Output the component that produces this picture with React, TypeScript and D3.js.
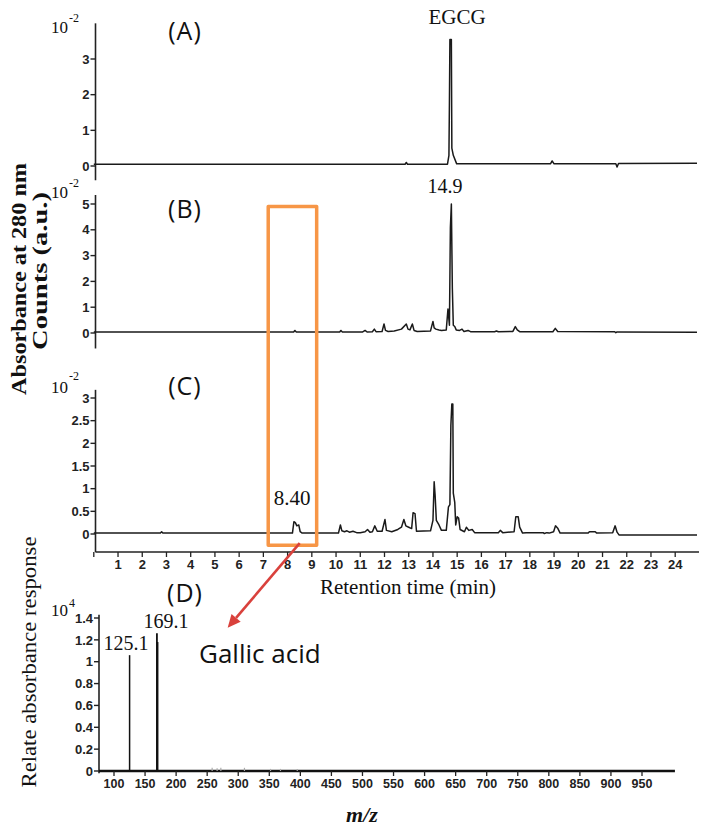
import React from "react";
import * as d3 from "d3";

// ---------- DATA ----------
const rtTicks = [0, 1, 2, 3, 4, 5, 6, 7, 8, 9, 10, 11, 12, 13, 14, 15, 16, 17, 18, 19, 20, 21, 22, 23, 24];
const rtTickLabels = ["", "1", "2", "3", "4", "5", "6", "7", "8", "9", "10", "11", "12", "13", "14", "15", "16", "17", "18", "19", "20", "21", "22", "23", "24"];
const ticksA = [0, 1, 2, 3];
const ticksB = [0, 1, 2, 3, 4, 5];
const ticksC = [0, 0.5, 1, 1.5, 2, 2.5, 3];
const ticksD = [0, 0.2, 0.4, 0.6, 0.8, 1, 1.2, 1.4];
const mzTicks = [100, 150, 200, 250, 300, 350, 400, 450, 500, 550, 600, 650, 700, 750, 800, 850, 900, 950];

// chromatogram A (EGCG standard), units 1e-2
const traceA: [number, number][] = [
  [0, 0.05], [12.85, 0.05], [12.9, 0.1], [12.95, 0.05], [14.6, 0.05], [14.66, 0.3], [14.68, 1.77],
  [14.7, 3.55], [14.76, 3.55], [14.78, 0.5], [14.84, 0.3], [14.98, 0.06], [18.85, 0.06], [18.92, 0.14],
  [19.0, 0.06], [21.55, 0.06], [21.6, -0.03], [21.66, 0.07], [24.9, 0.08],
];

// chromatogram B, units 1e-2
const traceB: [number, number][] = [
  [0, 0.04], [8.25, 0.04], [8.3, 0.1], [8.36, 0.04], [10.15, 0.04], [10.2, 0.1], [10.26, 0.04],
  [11.1, 0.04], [11.2, 0.1], [11.28, 0.04], [11.5, 0.05], [11.58, 0.15], [11.65, 0.05], [11.9, 0.06],
  [11.98, 0.35], [12.04, 0.1], [12.15, 0.06], [12.4, 0.08], [12.7, 0.15], [12.9, 0.35], [12.97, 0.15],
  [13.05, 0.12], [13.15, 0.35], [13.22, 0.1], [13.35, 0.06], [13.9, 0.08], [14.0, 0.45], [14.05, 0.2],
  [14.12, 0.15], [14.25, 0.12], [14.35, 0.1], [14.55, 0.12], [14.62, 0.93], [14.68, 0.3], [14.72, 4.1],
  [14.76, 5.0], [14.8, 1.75], [14.84, 0.3], [14.9, 0.25], [14.96, 0.12], [15.1, 0.1], [15.2, 0.15],
  [15.28, 0.06], [15.45, 0.1], [15.55, 0.05], [16.55, 0.05], [16.62, 0.08], [16.7, 0.05], [17.3, 0.06],
  [17.4, 0.25], [17.48, 0.12], [17.58, 0.05], [18.95, 0.05], [19.05, 0.18], [19.15, 0.06], [21.5, 0.05],
  [21.55, 0.01], [21.6, 0.04], [24.9, 0.03],
];

// chromatogram C, units 1e-2
const traceC: [number, number][] = [
  [0, 0.02], [2.75, 0.02], [2.8, 0.05], [2.85, 0.02], [8.2, 0.02], [8.26, 0.27], [8.32, 0.25],
  [8.38, 0.18], [8.46, 0.2], [8.52, 0.05], [8.6, 0.02], [10.1, 0.02], [10.18, 0.2], [10.24, 0.07],
  [10.35, 0.05], [10.45, 0.07], [10.55, 0.04], [10.7, 0.06], [10.85, 0.03], [11.0, 0.03], [11.2, 0.05],
  [11.3, 0.1], [11.4, 0.04], [11.5, 0.05], [11.6, 0.18], [11.7, 0.06], [11.9, 0.06], [12.02, 0.32],
  [12.08, 0.08], [12.3, 0.05], [12.55, 0.1], [12.7, 0.15], [12.8, 0.32], [12.88, 0.18], [13.0, 0.15],
  [13.12, 0.12], [13.18, 0.47], [13.26, 0.45], [13.32, 0.06], [13.9, 0.07], [14.0, 0.3], [14.05, 1.15],
  [14.09, 0.85], [14.14, 0.3], [14.25, 0.2], [14.35, 0.08], [14.55, 0.08], [14.64, 0.6], [14.7, 0.65],
  [14.74, 2.4], [14.78, 2.87], [14.82, 2.87], [14.84, 0.9], [14.9, 0.7], [14.94, 0.2], [15.0, 0.38],
  [15.06, 0.35], [15.12, 0.1], [15.3, 0.05], [15.38, 0.15], [15.48, 0.08], [15.62, 0.1], [15.72, 0.03],
  [16.7, 0.03], [16.78, 0.08], [16.88, 0.03], [17.35, 0.05], [17.42, 0.38], [17.52, 0.38], [17.58, 0.15],
  [17.7, 0.02], [17.85, 0.03], [18.55, 0.03], [18.6, 0.01], [18.7, 0.03], [18.8, 0.02], [18.98, 0.05],
  [19.06, 0.18], [19.16, 0.12], [19.25, 0.02], [20.4, 0.02], [20.46, 0.05], [20.7, 0.05], [20.76, 0.02],
  [21.42, 0.03], [21.52, 0.18], [21.6, 0.04], [21.68, -0.02], [24.9, -0.02],
];

// MS spectrum (D), units 1e4
const msMz = [125.1, 169.1, 170.1];
const msInt = [1.06, 1.26, 1.18];
const minorMz = [258, 266, 272, 310, 352, 368, 395];
const minorInt = [0.02, 0.015, 0.02, 0.02, 0.01, 0.01, 0.01];

// ---------- LAYOUT ----------
const W = 704;
const H = 830;
const AXIS_X = 95.5;

const xT = d3.scaleLinear().domain([0, 24.9]).range([93.8, 697]);
const yA = d3.scaleLinear().domain([0, 3]).range([166, 59]);
const yB = d3.scaleLinear().domain([0, 5]).range([333, 204]);
const yC = d3.scaleLinear().domain([0, 3]).range([534, 398]);
const xD = d3.scaleLinear().domain([100, 950]).range([114, 642]);
const yD = d3.scaleLinear().domain([0, 1.4]).range([771, 618]);

const serif = "'Liberation Serif', 'Times New Roman', serif";
const sans = "'Liberation Sans', Arial, sans-serif";
const calibri = "'Open Sans', 'Noto Sans', sans-serif";
const ink = "#222";

function YAxis({ x, scale, ticks, top, bottom, fmt }: any) {
  return (
    <g>
      <line x1={x} x2={x} y1={scale(top)} y2={scale(bottom)} stroke={ink} strokeWidth={1.6} />
      {ticks.map((t: number) => (
        <g key={t}>
          <line x1={x - 5} x2={x} y1={scale(t)} y2={scale(t)} stroke={ink} strokeWidth={1.4} />
          <text x={x - 6} y={scale(t)} dy="0.36em" textAnchor="end" fontFamily={sans} fontWeight="bold" fontSize={13} fill={ink}>
            {fmt ? fmt(t) : String(t)}
          </text>
        </g>
      ))}
    </g>
  );
}

function Exp({ x, y, base, exp, supDy }: any) {
  return (
    <g fontFamily={serif} fill="#111">
      <text x={x} y={y} fontSize={17}>{base}</text>
      <text x={x + 18} y={y - supDy} fontSize={12}>{exp}</text>
    </g>
  );
}

function Trace({ data, yScale }: any) {
  const line = d3.line<[number, number]>().x((d) => xT(d[0])).y((d) => yScale(d[1]));
  return <path d={line(data) || ""} fill="none" stroke="#1a1a1a" strokeWidth={1.5} strokeLinejoin="round" />;
}

export default function App() {
  const arrowStart: [number, number] = [xT(8.5), yC(-0.2)];
  const arrowEnd: [number, number] = [xD(283), yD(1.31)];
  const ang = Math.atan2(arrowEnd[1] - arrowStart[1], arrowEnd[0] - arrowStart[0]);
  const hl = 13, hw = 6;
  const bx = arrowEnd[0] - hl * Math.cos(ang), by = arrowEnd[1] - hl * Math.sin(ang);
  const head = [
    [arrowEnd[0], arrowEnd[1]],
    [bx + hw * Math.sin(ang), by - hw * Math.cos(ang)],
    [bx - hw * Math.sin(ang), by + hw * Math.cos(ang)],
  ].map((p) => p.join(",")).join(" ");

  return (
    <svg width={W} height={H} viewBox={`0 0 ${W} ${H}`} style={{ position: "absolute", left: 0, top: 0, background: "#fff" }}>
      <rect x={0} y={0} width={W} height={H} fill="#fff" />

      {/* Y titles */}
      <text transform="translate(26,279) rotate(-90)" textAnchor="middle" fontFamily={serif} fontWeight="bold" fontSize={22} textLength={232} lengthAdjust="spacingAndGlyphs" fill="#111">
        Absorbance at 280 nm
      </text>
      <text transform="translate(47,271) rotate(-90)" textAnchor="middle" fontFamily={serif} fontWeight="bold" fontSize={22} textLength={158} lengthAdjust="spacingAndGlyphs" fill="#111">
        Counts (a.u.)
      </text>
      <text transform="translate(36,662) rotate(-90)" textAnchor="middle" fontFamily={serif} fontSize={21} textLength={251} lengthAdjust="spacingAndGlyphs" fill="#111">
        Relate absorbance response
      </text>

      {/* Panel A */}
      <Exp x={51} y={33} base="10" exp="-2" supDy={11} />
      <YAxis x={AXIS_X} scale={yA} ticks={ticksA} top={4.0} bottom={-0.4} />
      <Trace data={traceA} yScale={yA} />
      <text x={185} y={40} textAnchor="middle" fontFamily={calibri} fontSize={25} letterSpacing={1} fill="#111">(A)</text>
      <text x={457} y={24} textAnchor="middle" fontFamily={serif} fontSize={21} fill="#111">EGCG</text>

      {/* Panel B */}
      <Exp x={51} y={198} base="10" exp="-2" supDy={11} />
      <YAxis x={AXIS_X} scale={yB} ticks={ticksB} top={5.35} bottom={-0.6} />
      <Trace data={traceB} yScale={yB} />
      <text x={185} y={218} textAnchor="middle" fontFamily={calibri} fontSize={25} letterSpacing={1} fill="#111">(B)</text>
      <text x={445} y={193} textAnchor="middle" fontFamily={serif} fontSize={20} fill="#111">14.9</text>

      {/* Panel C */}
      <Exp x={51} y={393} base="10" exp="-2" supDy={13} />
      <YAxis x={AXIS_X} scale={yC} ticks={ticksC} top={3.18} bottom={-0.4} />
      <Trace data={traceC} yScale={yC} />
      <text x={185} y={395} textAnchor="middle" fontFamily={calibri} fontSize={25} letterSpacing={1} fill="#111">(C)</text>
      <text x={292} y={505} textAnchor="middle" fontFamily={serif} fontSize={21} fill="#111">8.40</text>

      {/* Retention time axis */}
      <g>
        <line x1={AXIS_X} x2={xT(24.9) + 2} y1={552} y2={552} stroke={ink} strokeWidth={1.6} />
        {rtTicks.map((t, i) => (
          <g key={t}>
            <line x1={xT(t)} x2={xT(t)} y1={552} y2={557} stroke={ink} strokeWidth={1.3} />
            <text x={xT(t)} y={569} textAnchor="middle" fontFamily={sans} fontWeight="bold" fontSize={13} fill={ink}>
              {rtTickLabels[i]}
            </text>
          </g>
        ))}
        <text x={408} y={594} textAnchor="middle" fontFamily={serif} fontSize={21} fill="#111">Retention time (min)</text>
      </g>

      {/* Orange box */}
      <rect x={xT(7.2)} y={yB(4.9)} width={xT(9.2) - xT(7.2)} height={yC(-0.25) - yB(4.9)} fill="none" stroke="#F79646" strokeWidth={3.5} strokeLinejoin="round" />

      {/* Panel D */}
      <Exp x={51} y={616} base="10" exp="4" supDy={9} />
      <text x={185} y={602} textAnchor="middle" fontFamily={calibri} fontSize={25} letterSpacing={1} fill="#111">(D)</text>
      <YAxis x={99} scale={yD} ticks={ticksD} top={1.43} bottom={-0.02} />
      <line x1={99} x2={xD(1003)} y1={yD(0)} y2={yD(0)} stroke="#111" strokeWidth={2.6} />
      {mzTicks.map((t) => (
        <g key={t}>
          <line x1={xD(t)} x2={xD(t)} y1={yD(0)} y2={yD(0) + 5} stroke={ink} strokeWidth={1.3} />
          <text x={xD(t)} y={788} textAnchor="middle" fontFamily={sans} fontWeight="bold" fontSize={12.5} fill={ink}>
            {t}
          </text>
        </g>
      ))}
      {minorMz.map((m, i) => (
        <line key={"m" + m} x1={xD(m)} x2={xD(m)} y1={yD(0)} y2={yD(minorInt[i]) - 1} stroke="#aaa" strokeWidth={1.2} />
      ))}
      {msMz.map((m, i) => (
        <line key={m} x1={xD(m)} x2={xD(m)} y1={yD(0)} y2={yD(msInt[i])} stroke="#111" strokeWidth={i === 0 ? 1.5 : 1.8} />
      ))}
      <text x={126} y={650} textAnchor="middle" fontFamily={serif} fontSize={20} fill="#111">125.1</text>
      <text x={166} y={628} textAnchor="middle" fontFamily={serif} fontSize={20} fill="#111">169.1</text>
      <text x={199} y={663} fontFamily={calibri} fontSize={26} fill="#111">Gallic acid</text>
      <text x={362} y={822} textAnchor="middle" fontFamily={serif} fontStyle="italic" fontWeight="bold" fontSize={22} fill="#111">m/z</text>

      {/* Red arrow */}
      <line x1={arrowStart[0]} y1={arrowStart[1]} x2={bx} y2={by} stroke="#D9413C" strokeWidth={2.6} />
      <polygon points={head} fill="#D9413C" />
    </svg>
  );
}
